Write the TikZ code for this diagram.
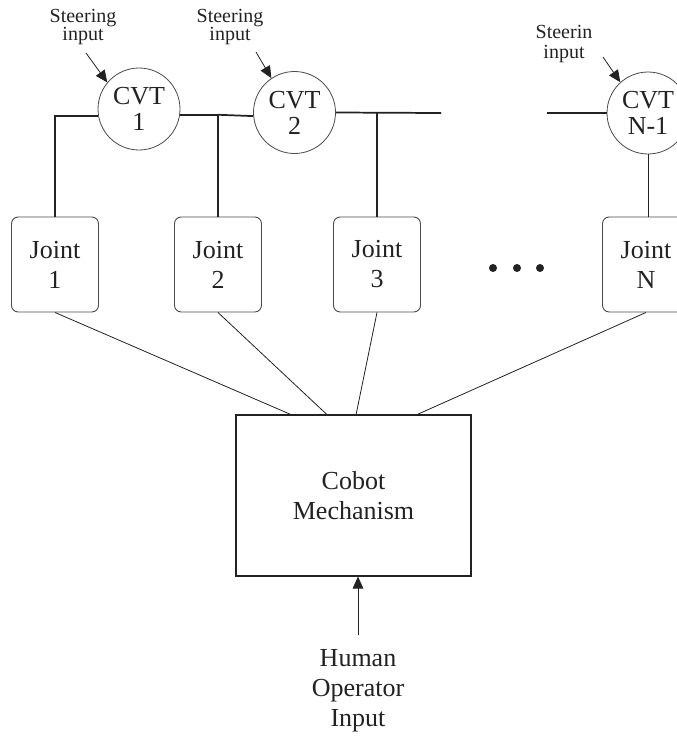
\documentclass[tikz,border=0pt]{standalone}
\usepackage{fontspec}
\setmainfont{Liberation Serif}
\usetikzlibrary{arrows.meta,calc}
\definecolor{ink}{HTML}{222222}
\definecolor{edge}{HTML}{4A4A4A}
\begin{document}
\begin{tikzpicture}[x=0.75pt,y=-0.75pt,
  every node/.style={text=ink},
  bus/.style={draw=ink,line width=1.3pt},
  link/.style={draw=ink,line width=0.6pt},
  tip/.style={draw=ink,line width=0.6pt,-{Triangle[length=9pt,width=8pt]}},
  cvtnode/.style={circle,draw=edge,line width=0.6pt,minimum size=61.5pt,inner sep=0pt,
    align=center,font=\fontsize{19.5}{19.5}\selectfont},
  jointbox/.style={rectangle,draw=edge,line width=0.7pt,rounded corners=5pt,
    minimum width=65.25pt,minimum height=71.25pt,inner sep=0pt,
    align=center,font=\fontsize{19.5}{22.5}\selectfont},
  mechbox/.style={rectangle,draw=ink,line width=0.8pt,
    minimum width=176.25pt,minimum height=120.75pt,inner sep=0pt,
    align=center,font=\fontsize{19.5}{22.5}\selectfont},
  steerlabel/.style={align=center,inner sep=0pt,font=\fontsize{15}{12.75}\selectfont},
  humanlabel/.style={align=center,inner sep=0pt,font=\fontsize{19.5}{22.5}\selectfont}]
\useasboundingbox (0,0) rectangle (677,736);
\clip (0,0) rectangle (677,736);

% transmissions
\node[cvtnode] (cvt1) at (139,109) {CVT\\1};
\node[cvtnode] (cvt2) at (294.5,112.5) {CVT\\2};
\node[cvtnode] (cvtN) at (648,113) {CVT\\N-1};

% joints
\node[jointbox] (j1) at (55,264.5) {Joint\\1};
\node[jointbox] (j2) at (218,264.5) {Joint\\2};
\node[jointbox] (j3) at (377,264.5) {Joint\\3};
\node[jointbox] (j4) at (646,264.5) {Joint\\N};

% mechanism and operator
\node[mechbox] (cobot) at (353.5,495.5) {Cobot\\Mechanism};
\node[humanlabel,anchor=north] (human) at (358,649) {Human\\Operator\\Input};
\coordinate (hs) at (358,635);

% steering inputs
\node[steerlabel] (s1) at (83,27) {Steering\\input};
\node[steerlabel] (s2) at (230,27) {Steering\\input};
\node[steerlabel,font=\fontsize{15}{15}\selectfont] (s3) at (564,44) {Steerin\\input};
\coordinate (a1) at (86,53);
\coordinate (a2) at (256,52);
\coordinate (a3) at (603,57);
\draw[tip] (a1) -- (cvt1.140);
\draw[tip] (a2) -- (cvt2.124);
\draw[tip] (a3) -- (cvtN.132);

% shafts between transmissions and joints
\coordinate (e1) at (441,113);
\coordinate (e2) at (547,113);
\draw[bus] (cvt1.190) -| (j1.north);
\draw[bus] (cvt1.352) -| (j2.north);
\draw[bus] (j2.north |- cvt1.352) -- (cvt2.185);
\draw[bus] (cvt2.east) -- (e1);
\draw[bus] (j3.north |- e1) -- (j3.north);
\draw[bus] (e2) -- (cvtN.west);
\draw[link] (cvtN.south) -- (cvtN.south |- j4.north);

% ellipsis between joints
\foreach \x in {493,517,540} \fill[ink] (\x,268) circle (3pt);

% joints to mechanism
\draw[link] (j1.south) -- ($(cobot.north west)!0.234!(cobot.north east)$);
\draw[link] (j2.south) -- ($(cobot.north west)!0.387!(cobot.north east)$);
\draw[link] (j3.south) -- ($(cobot.north west)!0.511!(cobot.north east)$);
\draw[link] (j4.south) -- ($(cobot.north west)!0.770!(cobot.north east)$);

% operator input
\draw[tip] (hs) -- (hs |- cobot.south);
\end{tikzpicture}
\end{document}
